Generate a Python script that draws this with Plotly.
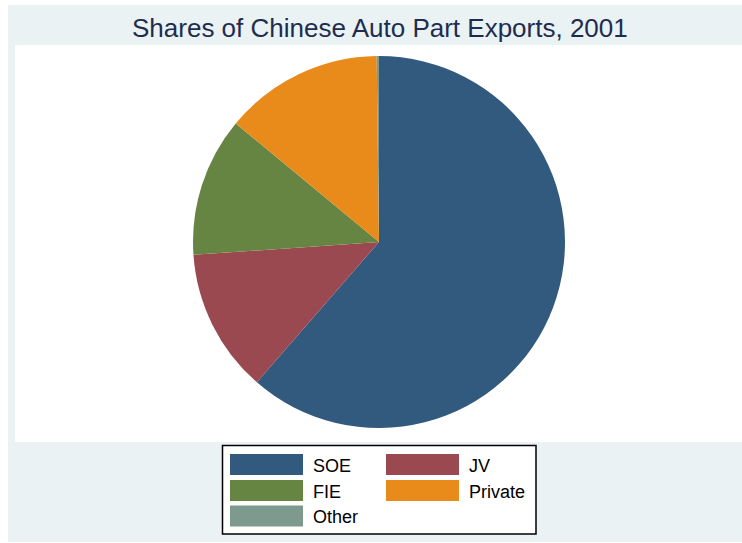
import plotly.graph_objects as go

# Data
categories = ["SOE", "JV", "FIE", "Private", "Other"]
shares = [61.4, 12.5, 12.1, 13.8, 0.2]
colors = ["#325A7E", "#9B4950", "#668543", "#E88B1B", "#7E9A8F"]
title_text = "Shares of Chinese Auto Part Exports, 2001"

W, H = 742, 543


def px(x):
    return x / W


def py(y):
    return 1 - y / H


# Pie geometry (pixels)
cx, cy, r = 379, 242, 186

fig = go.Figure()
fig.add_trace(go.Pie(
    labels=categories,
    values=shares,
    marker=dict(colors=colors, line=dict(width=0)),
    sort=False,
    direction="clockwise",
    rotation=0,
    textinfo="none",
    hoverinfo="label+percent",
    showlegend=False,
    domain=dict(x=[px(cx - r), px(cx + r)], y=[py(cy + r), py(cy - r)]),
))

shapes = [
    dict(type="rect", xref="paper", yref="paper", x0=px(8), x1=1, y0=py(542), y1=py(5),
         fillcolor="#EAF2F3", line=dict(width=0), layer="below"),
    dict(type="rect", xref="paper", yref="paper", x0=px(15), x1=1, y0=py(442), y1=py(45),
         fillcolor="#FFFFFF", line=dict(width=0), layer="below"),
    dict(type="rect", xref="paper", yref="paper", x0=px(222.5), x1=px(536), y0=py(534), y1=py(445.5),
         fillcolor="#FFFFFF", line=dict(color="#000000", width=1.5), layer="below"),
]

annotations = [
    dict(text=title_text, x=px(380), y=py(28), xref="paper", yref="paper",
         showarrow=False, xanchor="center", yanchor="middle",
         font=dict(family="Liberation Sans Narrow, Arial Narrow, Liberation Sans, sans-serif",
                   size=26, color="#1E2D4F")),
]

# Manual legend, two columns
col_x = [230, 386]
row_y = [464.5, 490.5, 516]
sw_w, sw_h = 73, 21
for i, (cat, col) in enumerate(zip(categories, colors)):
    c, rw = i % 2, i // 2
    x0 = col_x[c]
    yc = row_y[rw]
    shapes.append(dict(type="rect", xref="paper", yref="paper",
                       x0=px(x0), x1=px(x0 + sw_w), y0=py(yc + sw_h / 2), y1=py(yc - sw_h / 2),
                       fillcolor=col, line=dict(width=0)))
    annotations.append(dict(text=cat, x=px(x0 + sw_w + 8), y=py(yc + 1), xref="paper", yref="paper",
                            showarrow=False, xanchor="left", yanchor="middle",
                            font=dict(family="Liberation Sans, Arial, sans-serif", size=18, color="#000000")))

fig.update_layout(
    width=W, height=H,
    margin=dict(l=0, r=0, t=0, b=0),
    paper_bgcolor="#FFFFFF",
    plot_bgcolor="#FFFFFF",
    shapes=shapes,
    annotations=annotations,
)

fig.write_html("out.html", config={"displayModeBar": False},
               post_script="document.body.style.margin='0px';document.body.style.padding='0px';")
